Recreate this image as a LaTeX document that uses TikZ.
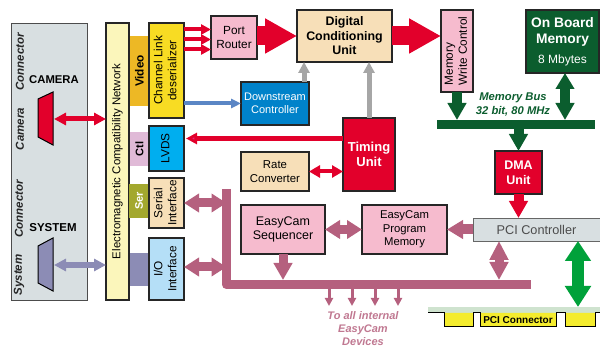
\documentclass[tikz,border=0pt]{standalone}
\usepackage{fontspec}
\setmainfont{Liberation Sans}
\usetikzlibrary{arrows.meta,calc}
\definecolor{cred}{HTML}{E2002B}
\definecolor{cpink}{HTML}{F6BBCE}
\definecolor{ctan}{HTML}{F7DFB8}
\definecolor{cgreen}{HTML}{0B5D2E}
\definecolor{cmauve}{HTML}{B5607E}
\definecolor{cviol}{HTML}{8C8CB5}
\definecolor{cgray}{HTML}{D8DFE1}
\definecolor{cbright}{HTML}{00A13A}
\definecolor{ccream}{HTML}{FBF6BB}
\definecolor{cvideo}{HTML}{EDB825}
\definecolor{cctl}{HTML}{E0BAD7}
\definecolor{cser}{HTML}{A3A82E}
\definecolor{cchan}{HTML}{F8DC23}
\definecolor{clvds}{HTML}{00AEEF}
\definecolor{cio}{HTML}{B5DFF7}
\definecolor{cdown}{HTML}{0082CA}
\definecolor{cblue}{HTML}{5B86C5}
\definecolor{cstrip}{HTML}{CFE3CF}
\definecolor{cyel}{HTML}{F4EC2E}
\definecolor{chead}{HTML}{E8267F}
\newcommand{\fs}[2]{\fontsize{#1}{#2}\selectfont}
\newcommand{\bx}[7]{\node[boxbase,#6,minimum width={(#4)-(#2)},minimum height={(#5)-(#3)}] (#1) at ({((#2)+(#4))/2},{((#3)+(#5))/2}) {#7};}
\newcommand{\rt}[1]{\rotatebox{90}{\begin{tabular}{@{}c@{}}#1\end{tabular}}}
\newcommand{\rtl}[1]{\rotatebox{90}{\begin{tabular}{@{}l@{}}#1\end{tabular}}}
\tikzset{
  boxbase/.style={inner sep=0pt,outer sep=0pt,align=center,text=black,font=\fs{11.8}{14}},
  frame/.style={draw=black!85,line width=1.3pt},
  lab/.style={inner sep=0pt,align=center},
  redthin/.style={draw=cred,line width=4pt,-{Triangle[length=10pt,width=10pt,fill=cred]}},
  redfat/.style={draw=cred,line width=19pt,-{Triangle[length=32pt,width=33pt,fill=cred]}},
  reddbl/.style={draw=cred,line width=4pt,{Triangle[length=11pt,width=12pt,fill=cred]}-{Triangle[length=11pt,width=12pt,fill=cred]}},
  redmid/.style={draw=cred,line width=10pt,-{Triangle[length=17pt,width=18pt,fill=cred]}},
  grayup/.style={draw=black!35,line width=5pt,-{Triangle[length=11pt,width=11pt,fill=black!35]}},
  greendown/.style={draw=cgreen,line width=10pt,-{Triangle[length=17pt,width=18pt,fill=cgreen]}},
  greendbl/.style={draw=cgreen,line width=10pt,{Triangle[length=16pt,width=18pt,fill=cgreen]}-{Triangle[length=17pt,width=18pt,fill=cgreen]}},
  mauvedbl/.style={draw=cmauve,line width=9pt,{Triangle[length=15pt,width=18pt,fill=cmauve]}-{Triangle[length=15pt,width=18pt,fill=cmauve]}},
  mauvevert/.style={draw=cmauve,line width=9pt,{Triangle[length=19pt,width=18pt,fill=cmauve]}-{Triangle[length=18pt,width=18pt,fill=cmauve]}},
  mauveone/.style={draw=cmauve,line width=10pt,-{Triangle[length=16pt,width=18pt,fill=cmauve]}},
  mauvethin/.style={draw=cmauve,line width=3pt,-{Triangle[length=8pt,width=8pt,fill=cmauve]}},
  violdbl/.style={draw=cviol,line width=6pt,{Triangle[length=12pt,width=12pt,fill=cviol]}-{Triangle[length=12pt,width=12pt,fill=cviol]}},
  camdbl/.style={draw=cred,line width=5pt,{Triangle[length=12pt,width=12pt,fill=cred]}-{Triangle[length=12pt,width=12pt,fill=cred]}},
  bigdbl/.style={draw=cbright,line width=12pt,{Triangle[length=20pt,width=25pt,fill=cbright]}-{Triangle[length=21pt,width=25pt,fill=cbright]}},
}
\begin{document}
\begin{tikzpicture}[x=1pt,y=-1pt]
\useasboundingbox (0,0) rectangle (600,347);
% left panels
\bx{panel}{11}{23}{87}{300}{fill=cgray,draw=black!70,line width=0.8pt}{}
\bx{emc}{106}{23}{129}{300}{fill=ccream,frame}{\rotatebox{90}{\fs{11.4}{12}Electromagnetic Compatibility Network}}
\bx{videobar}{130}{36}{149}{106}{fill=cvideo}{\rotatebox{90}{\bfseries\fs{11.8}{12}Video}}
\bx{ctlbar}{130}{132}{149}{166}{fill=cctl}{\rotatebox{90}{\bfseries\fs{11}{12}Ctl}}
\bx{serbar}{129}{184}{149}{218}{fill=cser}{\rotatebox{90}{\bfseries\color{white}\fs{11}{12}Ser}}
\bx{iobar}{130}{253}{149}{286}{fill=cviol}{}
\bx{channel}{149}{23}{184}{118}{fill=cchan,frame}{\rt{Channel Link\\deserializer}}
\bx{lvds}{149}{126}{184}{171}{fill=clvds,frame}{\rt{LVDS}}
\bx{serial}{149}{178}{184}{228}{fill=ctan,frame}{\rt{Serial\\Interface}}
\bx{io}{149}{238}{184}{300}{fill=cio,frame}{\rt{I/O\\Interface}}
% main boxes
\bx{port}{211}{16}{257}{59}{fill=cpink,frame}{Port\\Router}
\bx{digital}{297}{10}{392}{62}{fill=ctan,frame,font=\bfseries\fs{12.4}{14.5}}{Digital\\Conditioning\\Unit}
\bx{mem}{441}{10}{473}{92}{fill=cpink,frame}{\rtl{Memory\\Write Control}}
\bx{board}{526}{10}{599}{73}{fill=cgreen,frame,text=white,font=\bfseries\fs{13.8}{16.5}}{On Board\\Memory\\[3pt]\mdseries\fs{12}{13}8 Mbytes}
\bx{down}{241}{82}{309}{125}{fill=cdown,frame,text=white,font=\fs{11}{13}}{Downstream\\Controller}
\bx{rate}{241}{152}{309}{191}{fill=ctan,frame,font=\fs{11.4}{13.5}}{Rate\\Converter}
\bx{timing}{343}{118}{395}{191}{fill=cred,frame,text=white,font=\bfseries\fs{13}{15}}{Timing\\Unit}
\bx{dma}{495}{151}{542}{194}{fill=cred,frame,text=white,font=\bfseries\fs{12.5}{15}}{DMA\\Unit}
\bx{seq}{241}{205}{325}{254}{fill=cpink,frame,font=\fs{12.5}{14}}{EasyCam\\Sequencer}
\bx{prog}{362}{205}{447}{254}{fill=cpink,frame,font=\fs{11.3}{13.5}}{EasyCam\\Program\\Memory}
\bx{pci}{473}{218}{600}{241}{fill=cgray,draw=black!60,line width=0.7pt,text=black!70,font=\fs{12.7}{14}}{PCI Controller}
\bx{mbus}{437}{120}{595}{129}{fill=cgreen}{}
\bx{strip}{428}{307}{600}{313}{fill=cstrip}{}
% connector trapezoids
\filldraw[fill=cred,draw=black,line width=1pt] (38,99) -- (53,92) -- (53,145) -- (38,137) -- cycle;
\filldraw[fill=cviol,draw=black,line width=1pt] (38,246) -- (53,238) -- (53,291) -- (38,283) -- cycle;
\coordinate (camport) at (54,119);
\coordinate (sysport) at (54,265);
% pci connector
\filldraw[fill=cyel,draw=black,line width=1pt] (428,313) -- (444,313) -- (444,327) -- (473,327) -- (473,313) -- (480,313) -- (480,327) -- (556,327) -- (556,313) -- (565,313) -- (565,327) -- (595,327) -- (595,313) -- (600,313);
% internal bus
\coordinate (bustop) at (226.5,189);
\coordinate (buscorner) at (226.5,284.5);
\coordinate (busend) at (531,284.5);
\draw[cmauve,line width=9.5pt,line join=round] (bustop) -- (buscorner) -- (busend);
% connectors
\draw[camdbl] (camport) -- (emc.west |- camport);
\draw[violdbl] (sysport) -- (emc.west |- sysport);
\draw[redthin] ([yshift=8pt]channel.east |- port.west) -- ([yshift=8pt]port.west);
\draw[redthin] ([yshift=-2pt]channel.east |- port.west) -- ([yshift=-2pt]port.west);
\draw[redthin] ([yshift=-12pt]channel.east |- port.west) -- ([yshift=-12pt]port.west);
\draw[redfat] ([yshift=1.5pt]port.east) -- (digital.west);
\draw[redfat] (digital.east) -- (mem.west |- digital.east);
\draw[draw=cblue,line width=4pt,-{Triangle[length=10pt,width=9pt,fill=cblue]}] (channel.east |- down.west) -- (down.west);
\draw[draw=cred,line width=5pt,-{Triangle[length=11pt,width=11pt,fill=chead]}] ([yshift=10pt]timing.west |- lvds.east) -- ([yshift=10pt,xshift=2pt]lvds.east);
\draw[reddbl] (rate.east) -- (timing.west |- rate.east);
\draw[grayup] (timing.north) -- (timing.north |- digital.south);
\draw[grayup] (down.north -| 304,0) -- (digital.south -| 304,0);
\draw[greendown] (mem.south) -- (mem.south |- mbus.north);
\draw[greendbl] (board.south -| 565,0) -- (mbus.north -| 565,0);
\draw[greendown] (mbus.south -| dma.north) -- (dma.north);
\draw[redmid] (dma.south) -- (dma.south |- pci.north);
\draw[mauveone] (pci.west |- prog.east) -- (prog.east);
\draw[mauvedbl] (seq.east) -- (prog.west);
\draw[mauvedbl] (serial.east |- 0,203) -- (bustop |- 0,203);
\draw[mauvedbl] (io.east |- 0,267) -- (bustop |- 0,267);
\draw[draw=cmauve,line width=9pt,-{Triangle[length=17pt,width=18pt,fill=cmauve]}] (seq.south -| 283,0) -- (283,280);
\draw[mauvevert] (pci.south -| 499,0) -- (499,280);
\draw[bigdbl] (pci.south -| 578,0) -- (strip.north -| 578,0);
\foreach \i/\xx in {1/329,2/352,3/375,4/398}{
  \coordinate (dev\i) at (\xx,306);
  \draw[mauvethin] (\xx,289) -- (dev\i);
}
% labels
\node[lab,rotate=90,font=\bfseries\itshape\fs{11.5}{12},text=black!85] (l1) at (20,129) {Camera};
\node[lab,rotate=90,font=\bfseries\itshape\fs{11.5}{12},text=black!85] (l2) at (20,62) {Connector};
\node[lab,rotate=90,font=\bfseries\itshape\fs{11.5}{12},text=black!85] (l3) at (19,275) {System};
\node[lab,rotate=90,font=\bfseries\itshape\fs{11.5}{12},text=black!85] (l4) at (19,209) {Connector};
\node[lab,font=\bfseries\fs{11.3}{12}] (l5) at (54,80) {CAMERA};
\node[lab,font=\bfseries\fs{11.5}{12}] (l6) at (53,228) {SYSTEM};
\node[lab,font=\bfseries\itshape\fs{11.2}{14},text=cgreen] (l7) at (513,105) {Memory Bus\\32 bit, 80 MHz};
\node[lab,font=\bfseries\itshape\fs{11}{12.6},text=cmauve!85!white] (l8) at (363,328.5) {To all internal\\EasyCam\\Devices};
\node[lab,font=\bfseries\fs{10}{12}] (l9) at (518,320) {PCI Connector};
\end{tikzpicture}
\end{document}
